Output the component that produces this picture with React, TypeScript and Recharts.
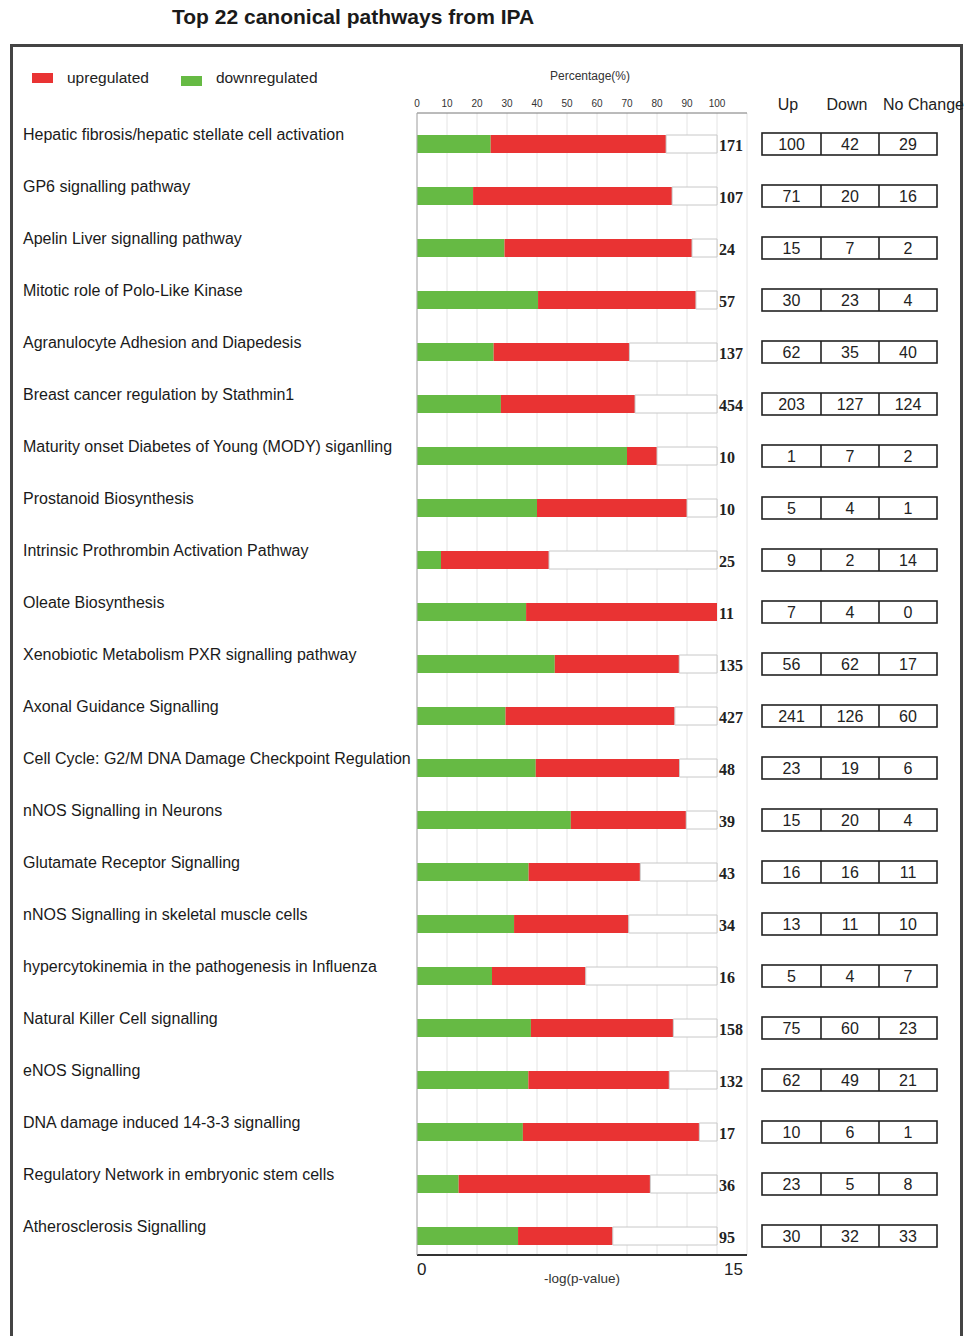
import React from 'react';
import { BarChart, Bar, XAxis, YAxis, CartesianGrid } from 'recharts';

const pathways = [
  'Hepatic fibrosis/hepatic stellate cell activation',
  'GP6 signalling pathway',
  'Apelin Liver signalling pathway',
  'Mitotic role of Polo-Like Kinase',
  'Agranulocyte Adhesion and Diapedesis',
  'Breast cancer regulation by Stathmin1',
  'Maturity onset Diabetes of Young (MODY) siganlling',
  'Prostanoid Biosynthesis',
  'Intrinsic Prothrombin Activation Pathway',
  'Oleate Biosynthesis',
  'Xenobiotic Metabolism PXR signalling pathway',
  'Axonal Guidance Signalling',
  'Cell Cycle: G2/M DNA Damage Checkpoint Regulation',
  'nNOS Signalling in Neurons',
  'Glutamate Receptor Signalling',
  'nNOS Signalling in skeletal muscle cells',
  'hypercytokinemia in the pathogenesis in Influenza',
  'Natural Killer Cell signalling',
  'eNOS Signalling',
  'DNA damage induced 14-3-3 signalling',
  'Regulatory Network in embryonic stem cells',
  'Atherosclerosis Signalling',
];

const upCounts = [100, 71, 15, 30, 62, 203, 1, 5, 9, 7, 56, 241, 23, 15, 16, 13, 5, 75, 62, 10, 23, 30];
const downCounts = [42, 20, 7, 23, 35, 127, 7, 4, 2, 4, 62, 126, 19, 20, 16, 11, 4, 60, 49, 6, 5, 32];
const noChangeCounts = [29, 16, 2, 4, 40, 124, 2, 1, 14, 0, 17, 60, 6, 4, 11, 10, 7, 23, 21, 1, 8, 33];
const totals = [171, 107, 24, 57, 137, 454, 10, 10, 25, 11, 135, 427, 48, 39, 43, 34, 16, 158, 132, 17, 36, 95];

const percentTicks = [0, 10, 20, 30, 40, 50, 60, 70, 80, 90, 100];
const pValueTicks = [0, 15];
const tableColumns = ['Up', 'Down', 'No Change'];
const legendItems = [
  { label: 'upregulated', color: '#E93333' },
  { label: 'downregulated', color: '#66BA44' },
];

const GREEN = '#66BA44';
const RED = '#E93333';

const data = pathways.map((name, i) => {
  const t = totals[i];
  return {
    name,
    up: upCounts[i],
    down: downCounts[i],
    nc: noChangeCounts[i],
    total: t,
    downPct: (downCounts[i] / t) * 100,
    upPct: (upCounts[i] / t) * 100,
    ncPct: (noChangeCounts[i] / t) * 100,
  };
});

const SANS = '"Liberation Sans", Arial, sans-serif';

const YTick = (props: any) => {
  const { y, payload } = props;
  return (
    <text x={23} y={y - 10} dominantBaseline="central" fontSize={16} fontFamily={SANS} fill="#1a1a1a">
      {payload.value}
    </text>
  );
};

const BottomTick = (props: any) => {
  const { x, y, payload, index } = props;
  const first = index === 0;
  return (
    <text
      x={first ? x : x - 4}
      y={y + 6}
      dominantBaseline="central"
      textAnchor={first ? 'start' : 'end'}
      fontSize={17}
      fontFamily={SANS}
      fill="#222"
    >
      {payload.value}
    </text>
  );
};

const cellX = [762, 821, 879, 937];

const DownShape = (props: any) => {
  const { x, y, width, height, payload, fill } = props;
  const cy = y + height / 2;
  const endX = x + (width * 100) / payload.downPct;
  const vals = [payload.up, payload.down, payload.nc];
  return (
    <g>
      <rect x={x} y={y} width={width} height={height} fill={fill} />
      <text
        x={endX + 2}
        y={cy + 1}
        dominantBaseline="central"
        fontSize={16}
        fontWeight="bold"
        fontFamily='"Liberation Serif", "Times New Roman", serif'
        fill="#222"
      >
        {payload.total}
      </text>
      <rect x={cellX[0]} y={cy - 11} width={cellX[3] - cellX[0]} height={22} fill="#fff" stroke="#222" strokeWidth={1.6} />
      <line x1={cellX[1]} x2={cellX[1]} y1={cy - 11} y2={cy + 11} stroke="#222" strokeWidth={1.6} />
      <line x1={cellX[2]} x2={cellX[2]} y1={cy - 11} y2={cy + 11} stroke="#222" strokeWidth={1.6} />
      {vals.map((v, k) => (
        <text
          key={k}
          x={(cellX[k] + cellX[k + 1]) / 2}
          y={cy}
          dominantBaseline="central"
          textAnchor="middle"
          fontSize={16}
          fontFamily={SANS}
          fill="#222"
        >
          {v}
        </text>
      ))}
    </g>
  );
};

export default function App() {
  return (
    <div
      style={{
        position: 'absolute',
        left: 0,
        top: 0,
        width: 965,
        height: 1336,
        overflow: 'hidden',
        background: '#fff',
        fontFamily: SANS,
      }}
    >
      <div
        style={{
          position: 'absolute',
          left: 172,
          top: 5,
          fontSize: 21,
          fontWeight: 'bold',
          color: '#1a1a1a',
          whiteSpace: 'nowrap',
        }}
      >
        Top 22 canonical pathways from IPA
      </div>
      <div
        style={{
          position: 'absolute',
          left: 10,
          top: 44,
          width: 953,
          height: 1330,
          border: '3px solid #444',
          boxSizing: 'border-box',
        }}
      />
      <div style={{ position: 'absolute', left: 32, top: 69, display: 'flex', alignItems: 'center' }}>
        {legendItems.map((it, i) => (
          <div key={it.label} style={{ display: 'flex', alignItems: 'center', marginRight: 32 }}>
            <div
              style={{
                width: 21,
                height: 10,
                background: it.color,
                marginRight: 14,
                marginTop: i === 1 ? 5 : 0,
              }}
            />
            <span style={{ fontSize: 15.5, color: '#222' }}>{it.label}</span>
          </div>
        ))}
      </div>
      {tableColumns.map((c, k) => (
        <div
          key={c}
          style={{
            position: 'absolute',
            left: k === 2 ? 883 : k === 0 ? 768 : 821,
            width: k === 2 ? 90 : k === 0 ? 40 : 52,
            textAlign: k === 2 ? 'left' : 'center',
            top: 96,
            fontSize: 16,
            color: '#222',
            whiteSpace: 'nowrap',
          }}
        >
          {c}
        </div>
      ))}
      <div style={{ position: 'absolute', left: 0, top: 0 }}>
        <BarChart
          width={965}
          height={1336}
          data={data}
          layout="vertical"
          margin={{ top: 60, right: 218, bottom: 51, left: 0 }}
          barSize={18}
        >
          <CartesianGrid horizontal={false} stroke="#e4e4e4" />
          <XAxis
            type="number"
            orientation="top"
            domain={[0, 110]}
            ticks={percentTicks}
            height={53}
            axisLine={{ stroke: '#777' }}
            tickLine={false}
            tickSize={3}
            tickMargin={3}
            tick={{ fontSize: 10, fill: '#333', fontFamily: SANS }}
            interval={0}
            label={{
              value: 'Percentage(%)',
              position: 'insideTop',
              offset: 11,
              dx: 8,
              fontSize: 12,
              fill: '#333',
              fontFamily: SANS,
            }}
          />
          <XAxis
            xAxisId="p"
            type="number"
            orientation="bottom"
            domain={[0, 15]}
            ticks={pValueTicks}
            allowDataOverflow
            height={30}
            axisLine={{ stroke: '#333', strokeWidth: 2 }}
            tickLine={false}
            tick={<BottomTick />}
            interval={0}
            label={{
              value: '-log(p-value)',
              position: 'insideBottom',
              offset: 2,
              fontSize: 13.5,
              fill: '#333',
              fontFamily: SANS,
            }}
          />
          <YAxis
            type="category"
            dataKey="name"
            width={417}
            axisLine={{ stroke: '#aaa' }}
            tickLine={false}
            tick={<YTick />}
            interval={0}
            padding={{ top: 5, bottom: -7 }}
          />
          <Bar dataKey="downPct" stackId="a" fill={GREEN} isAnimationActive={false} shape={<DownShape />} />
          <Bar dataKey="upPct" stackId="a" fill={RED} isAnimationActive={false} />
          <Bar dataKey="ncPct" stackId="a" fill="#fff" stroke="#c8c8c8" strokeWidth={1} isAnimationActive={false} />
        </BarChart>
      </div>
    </div>
  );
}
